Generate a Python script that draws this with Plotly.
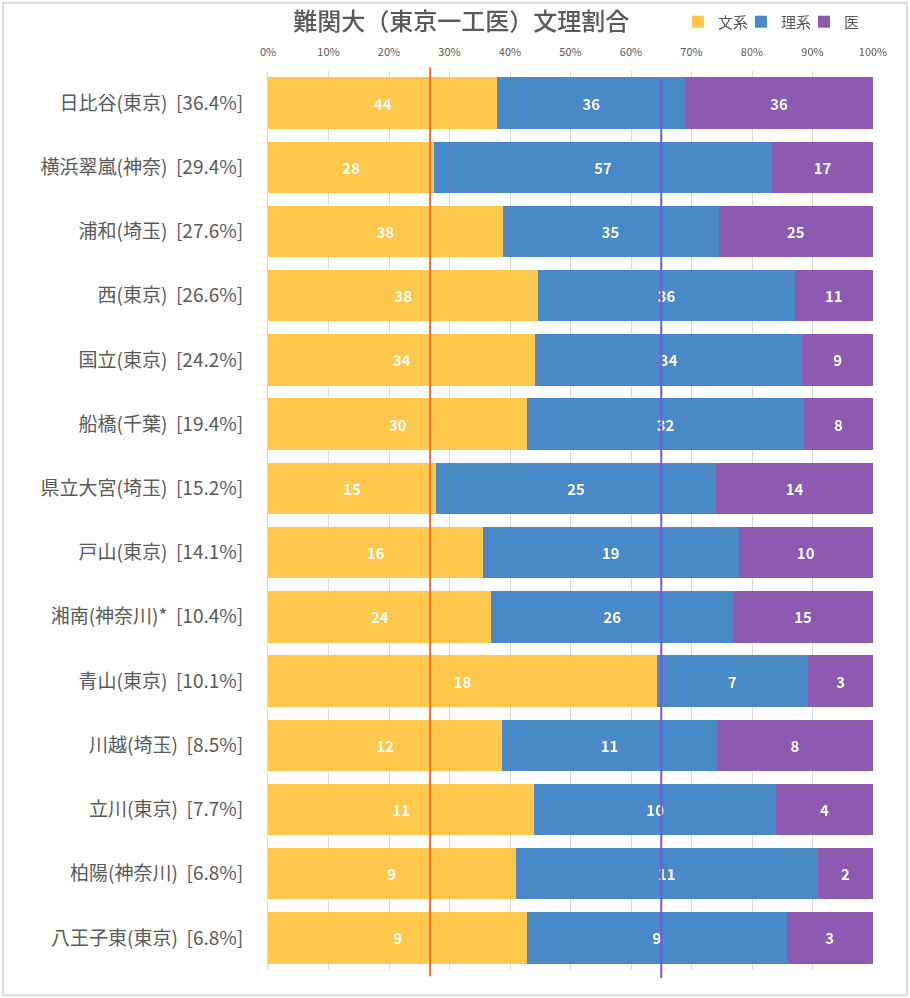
import plotly.graph_objects as go

schools = ["日比谷(東京)  [36.4%]", "横浜翠嵐(神奈)  [29.4%]", "浦和(埼玉)  [27.6%]", "西(東京)  [26.6%]",
           "国立(東京)  [24.2%]", "船橋(千葉)  [19.4%]", "県立大宮(埼玉)  [15.2%]", "戸山(東京)  [14.1%]",
           "湘南(神奈川)*  [10.4%]", "青山(東京)  [10.1%]", "川越(埼玉)  [8.5%]", "立川(東京)  [7.7%]",
           "柏陽(神奈川)  [6.8%]", "八王子東(東京)  [6.8%]"]
bunkei = [44, 28, 38, 38, 34, 30, 15, 16, 24, 18, 12, 11, 9, 9]
rikei = [36, 57, 35, 36, 34, 32, 25, 19, 26, 7, 11, 10, 11, 9]
igaku = [36, 17, 25, 11, 9, 8, 14, 10, 15, 3, 8, 4, 2, 3]
tick_vals = [0, 10, 20, 30, 40, 50, 60, 70, 80, 90, 100]
tick_text = ["0%", "10%", "20%", "30%", "40%", "50%", "60%", "70%", "80%", "90%", "100%"]

# reference lines (%)
line_bunkei = 26.8
line_rikei = 65.0

font_jp = "Noto Sans CJK JP"
grey = "#595959"

fig = go.Figure()
for name, vals, col in [("文系", bunkei, "#FEC33C"),
                        ("理系", rikei, "#3A7FC4"),
                        ("医", igaku, "#834DAB")]:
    fig.add_trace(go.Bar(
        y=schools, x=vals, name=name, orientation="h",
        marker=dict(color=col, line=dict(width=0)), opacity=0.92,
        text=vals, textposition="inside", insidetextanchor="middle", textangle=0,
        textfont=dict(color="white", size=15, family=font_jp, weight="bold"),
    ))

fig.add_shape(type="line", xref="x", yref="paper", x0=line_bunkei, x1=line_bunkei,
              y0=-0.007, y1=1.004, line=dict(color="#E8702A", width=2))
fig.add_shape(type="line", xref="x", yref="paper", x0=line_rikei, x1=line_rikei,
              y0=-0.009, y1=0.99, line=dict(color="#7A55D8", width=2))
# chart border
fig.add_shape(type="rect", xref="paper", yref="paper", x0=-0.438, x1=1.056, y0=-0.028, y1=1.076,
              line=dict(color="#D9D9D9", width=2), layer="below")

fig.update_layout(
    width=910, height=998,
    barmode="stack", barnorm="percent", bargap=0.2,
    plot_bgcolor="white", paper_bgcolor="white",
    margin=dict(l=268, r=37, t=71, b=28),
    font=dict(family=font_jp, color=grey),
    title=dict(text="難関大（東京一工医）文理割合", x=0.507, xanchor="center", y=0.978, yanchor="middle",
               font=dict(size=24, color=grey, family=font_jp, weight=500)),
    legend=dict(orientation="h", xref="container", x=0.745, xanchor="left",
                yref="container", y=0.978, yanchor="middle",
                traceorder="normal", font=dict(size=15, color=grey), itemwidth=30,
                entrywidth=18, entrywidthmode="pixels", bgcolor="rgba(0,0,0,0)"),
    showlegend=True,
    uniformtext=dict(minsize=15, mode="show"),
)
fig.update_xaxes(side="top", range=[0, 100], tickvals=tick_vals, ticktext=tick_text,
                 showgrid=True, gridcolor="#D9D9D9", gridwidth=1, zeroline=False,
                 ticks="", ticklabelstandoff=12, tickfont=dict(size=11, color=grey),
                 fixedrange=True, automargin=False)
fig.update_yaxes(autorange="reversed", showline=True, linecolor="#D9D9D9", linewidth=1,
                 ticks="", ticklabelstandoff=20, tickfont=dict(size=19, color=grey),
                 automargin=False)

fig.write_html("out.html", post_script="document.body.style.margin='0';",
               config={"displayModeBar": False})
